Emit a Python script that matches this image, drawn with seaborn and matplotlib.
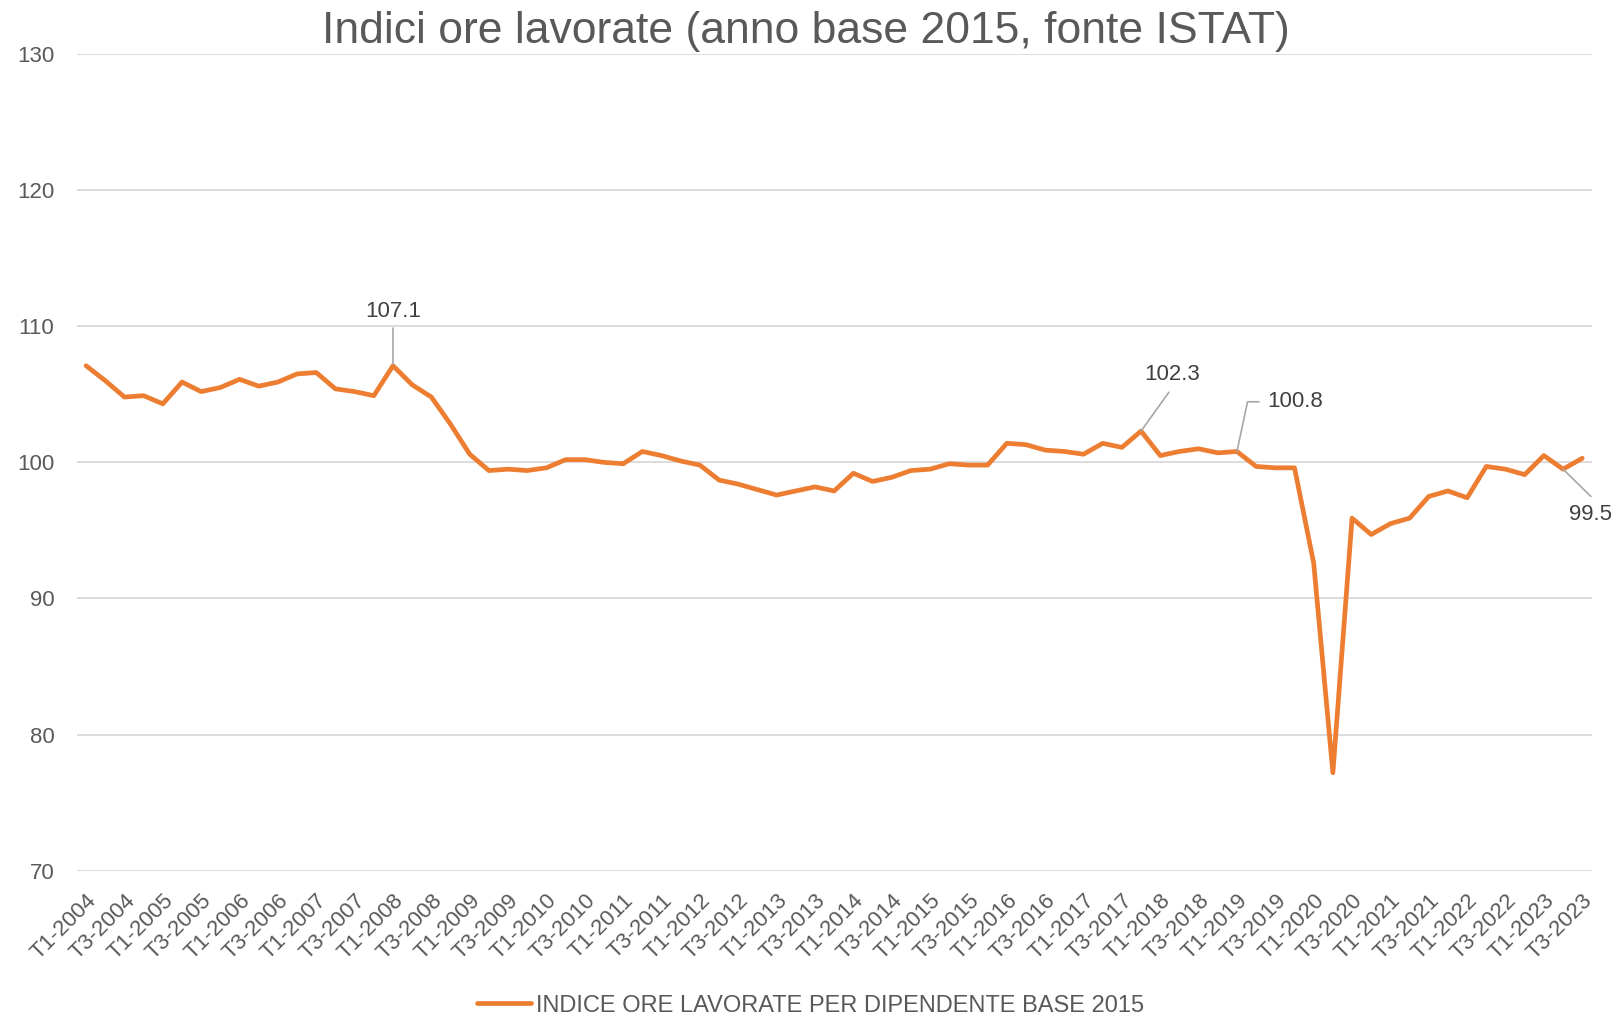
import matplotlib
matplotlib.use("Agg")
import matplotlib.pyplot as plt
import seaborn as sns
import pandas as pd
import numpy as np
from matplotlib.lines import Line2D

# ---- data ----
quarters = [f"T{q}-{y}" for y in range(2004, 2024) for q in (1, 2, 3, 4)][:79]
values = [
    107.1, 106.0, 104.8, 104.9, 104.3, 105.9, 105.2, 105.5, 106.1, 105.6,
    105.9, 106.5, 106.6, 105.4, 105.2, 104.9, 107.1, 105.7, 104.8, 102.8,
    100.6, 99.4, 99.5, 99.4, 99.6, 100.2, 100.2, 100.0, 99.9, 100.8,
    100.5, 100.1, 99.8, 98.7, 98.4, 98.0, 97.6, 97.9, 98.2, 97.9,
    99.2, 98.6, 98.9, 99.4, 99.5, 99.9, 99.8, 99.8, 101.4, 101.3,
    100.9, 100.8, 100.6, 101.4, 101.1, 102.3, 100.5, 100.8, 101.0, 100.7,
    100.8, 99.7, 99.6, 99.6, 92.6, 77.2, 95.9, 94.7, 95.5, 95.9,
    97.5, 97.9, 97.4, 99.7, 99.5, 99.1, 100.5, 99.5, 100.3,
]
series_name = "INDICE ORE LAVORATE PER DIPENDENTE BASE 2015"
title = "Indici ore lavorate (anno base 2015, fonte ISTAT)"
y_ticks = [70, 80, 90, 100, 110, 120, 130]
annotated = [16, 55, 60, 77]

df = pd.DataFrame({"idx": np.arange(len(values)), "val": values, "serie": series_name})

sns.set_theme(style="white")
plt.rcParams["font.family"] = ["Liberation Sans", "DejaVu Sans"]

fig = plt.figure(figsize=(16.21, 10.19), dpi=100)
ax = fig.add_axes([0.0472, 0.1455, 0.9348, 0.8015])

orange = "#ED7D31"
sns.lineplot(data=df, x="idx", y="val", hue="serie", palette=[orange],
             linewidth=3.4, ax=ax, legend=False)

ax.set_xlim(-0.5, len(values) - 0.5)
ax.set_ylim(70, 130)
ax.set_yticks(y_ticks)
ax.set_yticklabels([str(t) for t in y_ticks], fontsize=16, color="#595959")
ax.yaxis.grid(True, color="#D9D9D9", linewidth=1.3)
ax.xaxis.grid(False)
for s in ax.spines.values():
    s.set_visible(False)
ax.tick_params(axis="y", length=0, pad=16)

xt = list(range(0, len(values), 2))
ax.set_xticks(xt)
ax.set_xticklabels([quarters[i] for i in xt], rotation=45, ha="right",
                   rotation_mode="anchor", fontsize=16, color="#595959")
ax.tick_params(axis="x", length=0, pad=14)
ax.set_xlabel("")
ax.set_ylabel("")

# annotations
lab_col = "#404040"
lead_col = "#A6A6A6"
i = annotated[0]
ax.plot([i, i], [values[i] + 0.1, 109.9], color=lead_col, lw=1.2, clip_on=False)
ax.text(i, 110.3, f"{values[i]:.1f}", ha="center", va="bottom", fontsize=16, color=lab_col)
i = annotated[1]
ax.plot([i, 56.45], [values[i], 105.15], color=lead_col, lw=1.2, clip_on=False)
ax.text(56.6, 106.45, f"{values[i]:.1f}", ha="center", va="center", fontsize=16, color=lab_col)
i = annotated[2]
ax.plot([i, 60.55, 61.15], [values[i], 104.45, 104.45], color=lead_col, lw=1.2, clip_on=False)
ax.text(61.6, 104.45, f"{values[i]:.1f}", ha="left", va="center", fontsize=16, color=lab_col)
i = annotated[3]
ax.plot([i, 78.45], [values[i], 97.5], color=lead_col, lw=1.2, clip_on=False)
ax.text(78.45, 96.15, f"{values[i]:.1f}", ha="center", va="center", fontsize=16,
        color=lab_col, clip_on=False)

fig.text(0.497, 0.969, title, ha="center", va="center", fontsize=32, color="#595959")

h = Line2D([0], [0], color=orange, lw=3.4)
fig.legend([h], [series_name], loc="center", bbox_to_anchor=(0.5, 0.013),
           frameon=False, fontsize=17, labelcolor="#595959", handlelength=2.3,
           handletextpad=0.2)

fig.savefig("out.png", dpi=100, facecolor="white")
